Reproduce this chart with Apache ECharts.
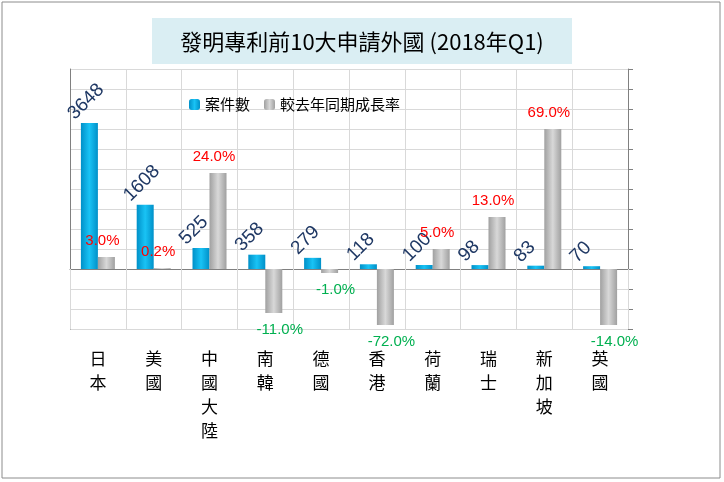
<!DOCTYPE html>
<html>
<head>
<meta charset="utf-8">
<script src="https://cdn.jsdelivr.net/npm/echarts@6/dist/echarts.min.js"></script>
<style>
  html, body { margin: 0; padding: 0; background: #fff; }
  #main { width: 724px; height: 482px; }
</style>
</head>
<body>
<div id="main"></div>
<script>
// 資料
var countries = ['日本', '美國', '中國大陸', '南韓', '德國', '香港', '荷蘭', '瑞士', '新加坡', '英國'];
var cases = [3648, 1608, 525, 358, 279, 118, 100, 98, 83, 70];
var growth = [3.0, 0.2, 24.0, -11.0, -1.0, -72.0, 5.0, 13.0, 69.0, -14.0];
// 69% 與 -72% 在原圖是截斷顯示
var growthShown = [3.0, 0.2, 24.0, -11.0, -1.0, -14.0, 5.0, 13.0, 35.0, -14.0];

var chart = echarts.init(document.getElementById('main'));
var font = '"Microsoft JhengHei", "Noto Sans CJK TC", sans-serif';

var option = {
    backgroundColor: '#fff',
    animation: false,
    graphic: [
        {type: 'rect', shape: {x: 2, y: 2, width: 718, height: 476},
         style: {fill: 'none', stroke: '#8c8c8c', lineWidth: 1}},
        {type: 'rect', shape: {x: 152, y: 18, width: 420, height: 46},
         style: {fill: '#daeef3'}},
        {type: 'text', x: 362, y: 42,
         style: {text: '發明專利前10大申請外國 (2018年Q1)', fill: '#000',
                 font: '22px ' + font, textAlign: 'center', textVerticalAlign: 'middle'}}
    ],
    legend: {
        top: 92, left: 184, itemWidth: 11, itemHeight: 11, itemGap: 14,
        textStyle: {fontSize: 15, color: '#000', fontFamily: font},
        data: ['案件數', '較去年同期成長率']
    },
    grid: {left: 70, right: 96, top: 69, bottom: 153, outerBoundsMode: 'none', containLabel: false},
    xAxis: {
        type: 'category',
        data: countries,
        axisLine: {lineStyle: {color: '#808080'}},
        axisTick: {show: true, length: 60, lineStyle: {color: '#d9d9d9'}},
        splitLine: {show: true, lineStyle: {color: '#d9d9d9'}},
        axisLabel: {
            margin: 18, fontSize: 17, color: '#000', fontFamily: font, lineHeight: 24,
            formatter: function (v) { return v.split('').join('\n'); }
        }
    },
    yAxis: [
        {type: 'value', min: -1500, max: 5000, interval: 500,
         axisLabel: {show: false},
         axisLine: {show: true, lineStyle: {color: '#808080'}},
         axisTick: {show: false},
         splitLine: {lineStyle: {color: '#d9d9d9'}}},
        {type: 'value', min: -15, max: 50, interval: 5,
         axisLabel: {show: false},
         axisLine: {show: true, lineStyle: {color: '#808080'}},
         axisTick: {show: true, length: 5, lineStyle: {color: '#808080'}},
         splitLine: {show: false}}
    ],
    series: [
        {
            name: '案件數', type: 'bar', yAxisIndex: 0, barWidth: 17, barGap: '0%',
            data: cases,
            itemStyle: {
                color: new echarts.graphic.LinearGradient(0, 0, 1, 0, [
                    {offset: 0, color: '#0090c8'}, {offset: 0.5, color: '#19c3f5'}, {offset: 1, color: '#0090c8'}])
            },
            label: {
                show: true, position: 'top', rotate: 45, align: 'left', verticalAlign: 'middle',
                offset: [-12, -14], fontSize: 19, color: '#1f3864', fontFamily: 'Arial, sans-serif'
            }
        },
        {
            name: '較去年同期成長率', type: 'bar', yAxisIndex: 1, barWidth: 17,
            data: growthShown.map(function (v, i) {
                var pos = growth[i] >= 0;
                return {
                    value: v,
                    label: {
                        position: pos ? 'top' : 'bottom',
                        color: pos ? '#ff0000' : '#00b050',
                        offset: pos ? [-4, -4] : [6, 4]
                    }
                };
            }),
            itemStyle: {
                color: new echarts.graphic.LinearGradient(0, 0, 1, 0, [
                    {offset: 0, color: '#a0a0a0'}, {offset: 0.5, color: '#d8d8d8'}, {offset: 1, color: '#a0a0a0'}])
            },
            label: {
                show: true, fontSize: 15, fontFamily: 'Arial, sans-serif',
                formatter: function (p) { return growth[p.dataIndex].toFixed(1) + '%'; }
            }
        }
    ]
};
chart.setOption(option);
</script>
</body>
</html>
